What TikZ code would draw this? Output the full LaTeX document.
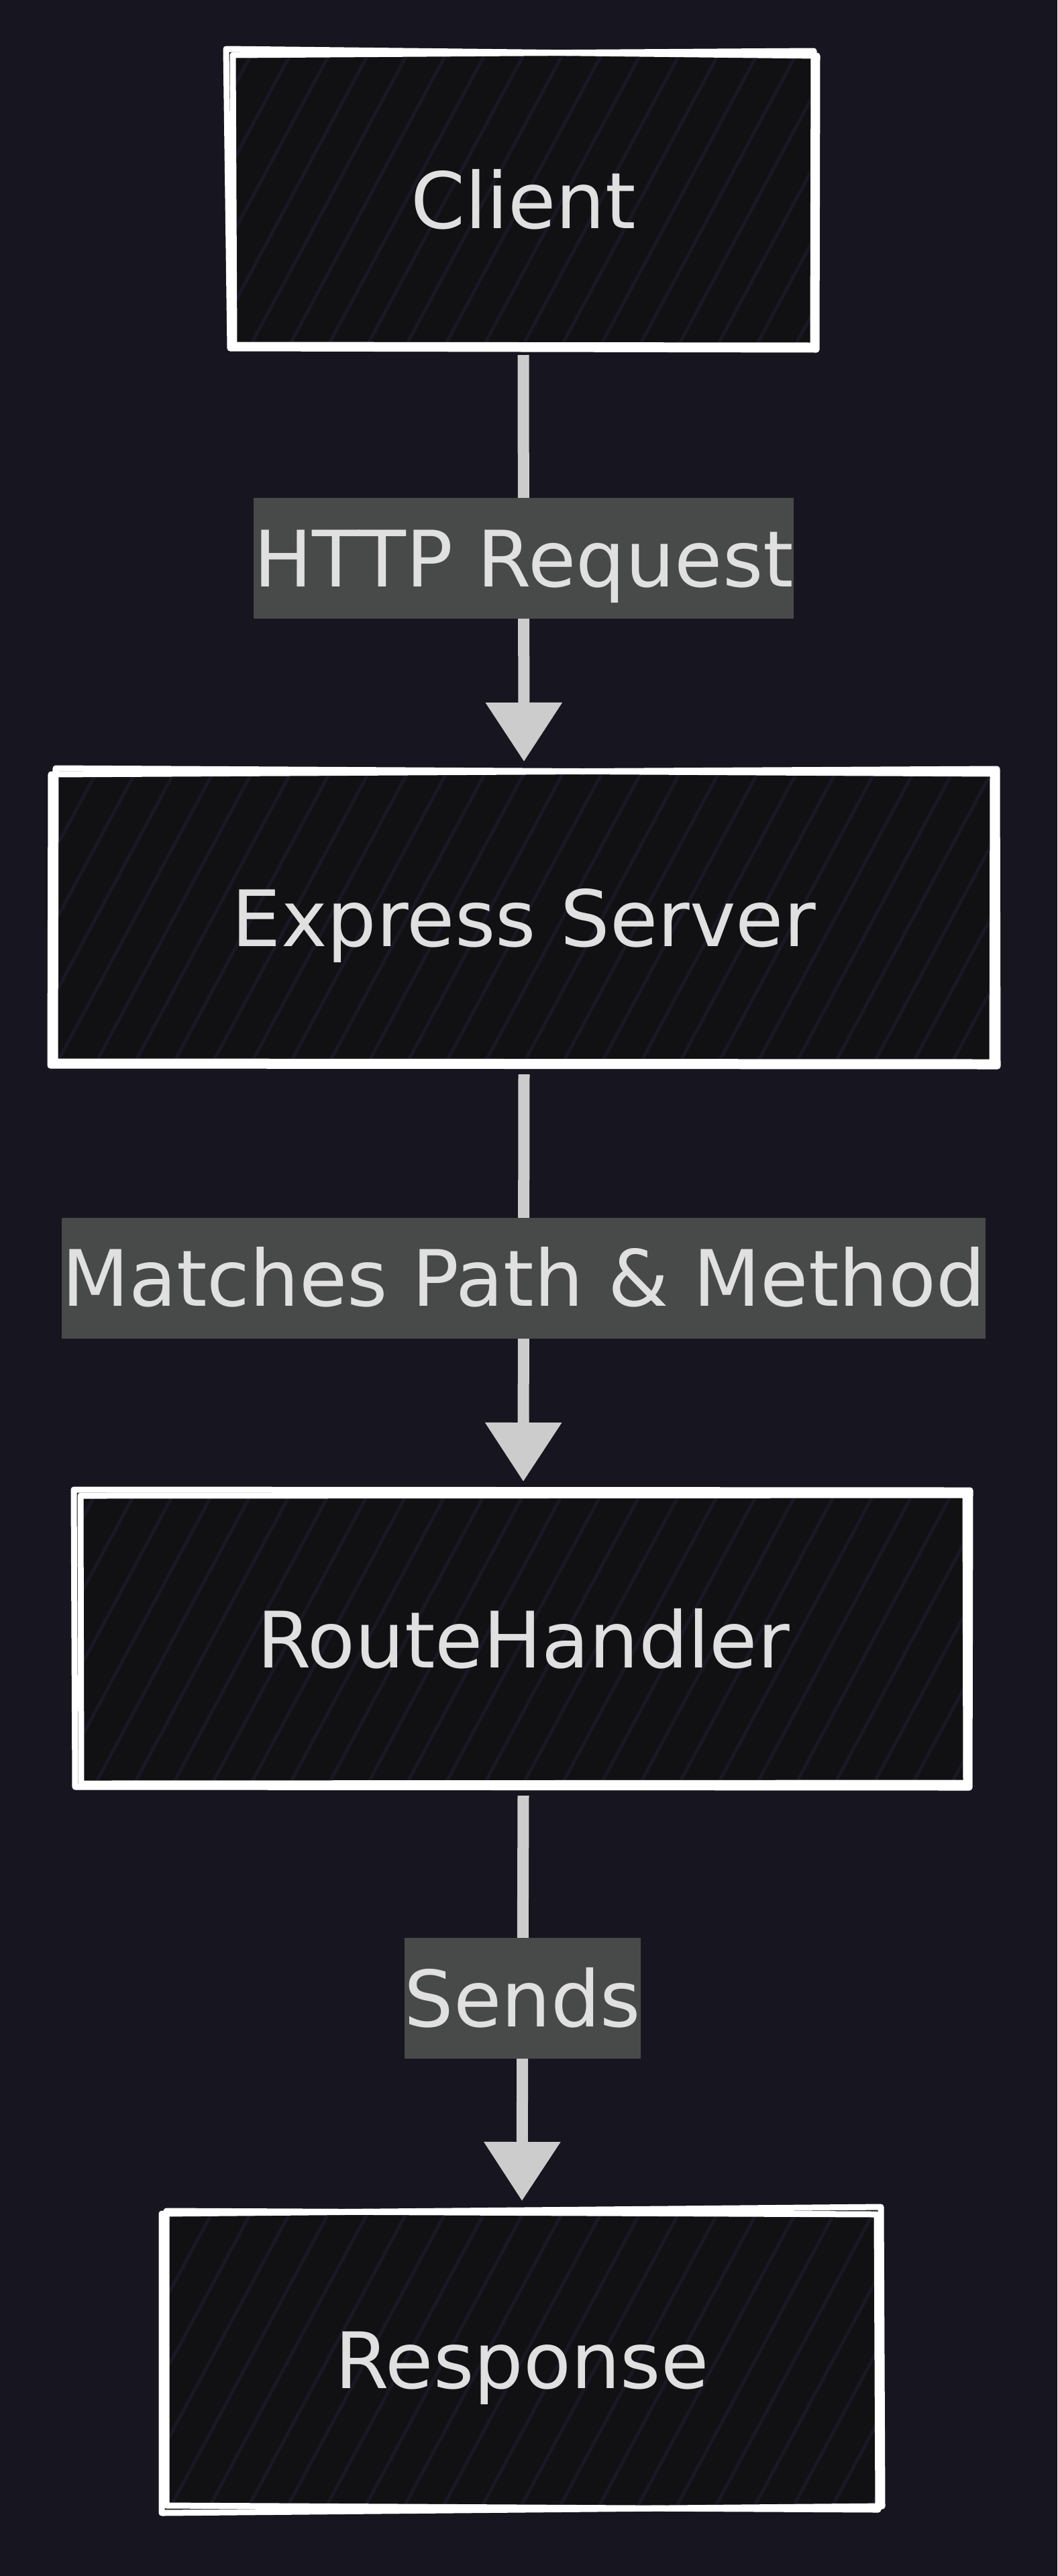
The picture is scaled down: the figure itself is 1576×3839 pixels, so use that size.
\documentclass[tikz,border=0pt]{standalone}
\usepackage{fontspec}
\setmainfont{DejaVu Sans}
\usetikzlibrary{arrows.meta,calc}
\definecolor{bgc}{RGB}{22,21,32}
\definecolor{boxfill}{RGB}{17,17,20}
\definecolor{hatchc}{RGB}{25,24,36}
\definecolor{labfill}{RGB}{72,74,73}
\definecolor{txtc}{RGB}{224,224,224}
\definecolor{arrc}{RGB}{204,204,204}
\pgfdeclarelayer{back}
\pgfdeclarelayer{mid}
\pgfsetlayers{back,mid,main}
\newcommand\hatchbox[1]{%
  \fill[boxfill] (#1.south west) rectangle (#1.north east);
  \begin{scope}
    \clip (#1.south west) rectangle (#1.north east);
    \foreach \k in {-18,...,18}{\draw[hatchline] ($(#1.center)+(\k*58-140,260)$) -- ($(#1.center)+(\k*58+140,-260)$);}
  \end{scope}}
\begin{document}
\begin{tikzpicture}[x=0.5pt,y=-0.5pt,
  box/.style={inner sep=0pt, outer sep=0pt, text=txtc, font=\fontsize{58}{70}\selectfont, text height=42pt, text depth=0pt},
  lab/.style={fill=labfill, inner xsep=0pt, inner ysep=0pt, minimum height=90pt, text=txtc, font=\fontsize{58}{70}\selectfont, text height=42pt, text depth=0pt},
  conn/.style={draw=arrc, line width=8.5pt, -{Triangle[length=44pt,width=55pt]}},
  edgeline/.style={draw=white, line width=4.5pt, line join=round, line cap=round},
  hatchline/.style={draw=hatchc, line width=2.5pt}]
\useasboundingbox (0,0) rectangle (1576,3839);
\begin{pgfonlayer}{back}
\fill[bgc] (0,0) rectangle (1576,3839);
\end{pgfonlayer}

\node[box, minimum width=435pt, minimum height=219pt] (client) at (780,298) {Client};
\node[box, minimum width=701pt, minimum height=218pt] (express) at (781,1368) {Express Server};
\node[box, minimum width=662pt, minimum height=218pt] (handler) at (780,2443) {RouteHandler};
\node[box, minimum width=533pt, minimum height=220pt] (response) at (778,3517) {Response};

\begin{pgfonlayer}{mid}
\hatchbox{client}
\hatchbox{express}
\hatchbox{handler}
\hatchbox{response}
\end{pgfonlayer}

% sketchy borders
\draw[edgeline] ($(client.north west)+(-8,-6)$) -- ($(client.north east)+(3,4)$) -- ($(client.south east)+(2,4)$) -- ($(client.south west)+(-2,2)$) -- cycle;
\draw[edgeline] ($(client.north west)+(2,3)$) -- ($(client.north east)+(-2,-3)$) -- ($(client.south east)+(-3,-2)$) -- ($(client.south west)+(4,-3)$) -- cycle;

\draw[edgeline] ($(express.north west)+(-4,4)$) -- ($(express.north east)+(4,-4)$) -- ($(express.south east)+(5,3)$) -- ($(express.south west)+(-5,2)$) -- cycle;
\draw[edgeline] ($(express.north west)+(3,-5)$) -- ($(express.north east)+(-2,3)$) -- ($(express.south east)+(-3,-3)$) -- ($(express.south west)+(2,-4)$) -- cycle;

\draw[edgeline] ($(handler.north west)+(-8,-5)$) -- ($(handler.north east)+(4,-4)$) -- ($(handler.south east)+(3,3)$) -- ($(handler.south west)+(-6,2)$) -- cycle;
\draw[edgeline] ($(handler.north west)+(2,4)$) -- ($(handler.north east)+(-3,3)$) -- ($(handler.south east)+(-2,-4)$) -- ($(handler.south west)+(3,-3)$) -- cycle;

\draw[edgeline] ($(response.north west)+(-4,2)$) -- ($(response.north east)+(2,-8)$) -- ($(response.south east)+(4,-2)$) -- ($(response.south west)+(-4,8)$) -- cycle;
\draw[edgeline] ($(response.north west)+(3,-2)$) -- ($(response.north east)+(-4,3)$) -- ($(response.south east)+(-2,3)$) -- ($(response.south west)+(3,-3)$) -- cycle;

% connectors
\draw[conn] ($(client.south)+(0,12)$) -- node[lab] {HTTP Request} ($(express.north)+(0,-15)$);
\draw[conn] ($(express.south)+(0,15)$) -- node[lab] {Matches Path \& Method} ($(handler.north)+(0,-17)$);
\draw[conn] ($(handler.south)+(0,15)$) -- node[lab] {Sends} ($(response.north)+(0,-17)$);
\end{tikzpicture}
\end{document}
